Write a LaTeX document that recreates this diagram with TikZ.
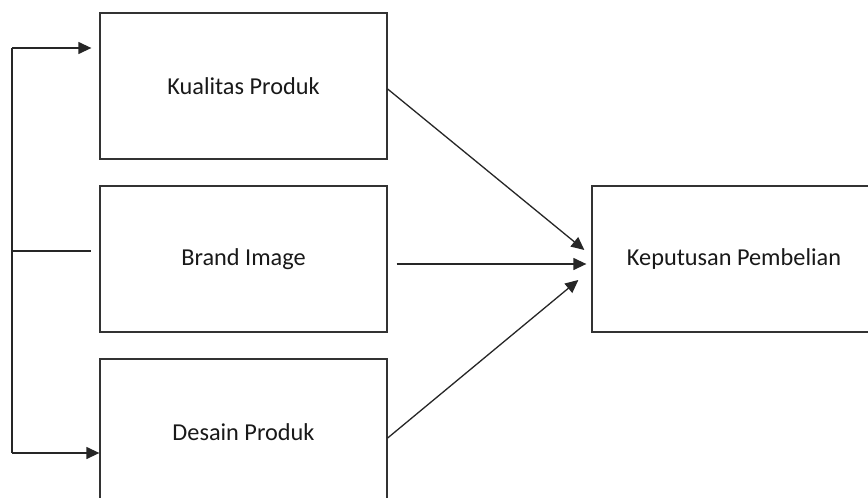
\documentclass[tikz,border=0pt]{standalone}
\usepackage{fontspec}
\setmainfont{Carlito}
\usetikzlibrary{arrows.meta}
\begin{document}
\begin{tikzpicture}[x=1pt,y=-1pt,
  box/.style={draw=black!80, line width=1.3pt, minimum width=287pt, minimum height=146pt,
    inner sep=0pt, font=\fontsize{24.3}{29}\selectfont, text=black!90},
  link/.style={draw=black!85, line width=1.3pt},
  arr/.style={link, -{Triangle[length=13pt,width=12pt]}}]
\useasboundingbox (0,0) rectangle (868,498);
\fill[white] (0,0) rectangle (868,498);
\clip (0,0) rectangle (868,498);

% variable boxes (the last two run past the page edges)
\node[box] (kp) at (243.5,86) {Kualitas Produk};
\node[box] (bi) at (243.5,259) {Brand Image};
\node[box] (dp) at (243.5,432) {Desain Produk};
\node[box, minimum width=284pt] (kb) at (734,259) {Keputusan Pembelian};

% bracket linking the three inputs
\coordinate (bt) at (12,48);
\coordinate (bm) at (12,251);
\coordinate (bb) at (12,453);
\draw[link] (bt) -- (bb);
\draw[arr] (bt) -- ([shift={(-8,-38)}]kp.west);
\draw[link] (bm) -- ([shift={(-8,-8)}]bi.west);
\draw[arr] (bb) -- ([shift={(0,21)}]dp.west);

% paths to the decision
\draw[arr] ([shift={(0,3)}]kp.east) -- ([shift={(-7,-9)}]kb.west);
\draw[arr] ([shift={(9,5)}]bi.east) -- ([shift={(-5,5)}]kb.west);
\draw[arr] ([shift={(0,6)}]dp.east) -- ([shift={(-13,21)}]kb.west);
\end{tikzpicture}
\end{document}
